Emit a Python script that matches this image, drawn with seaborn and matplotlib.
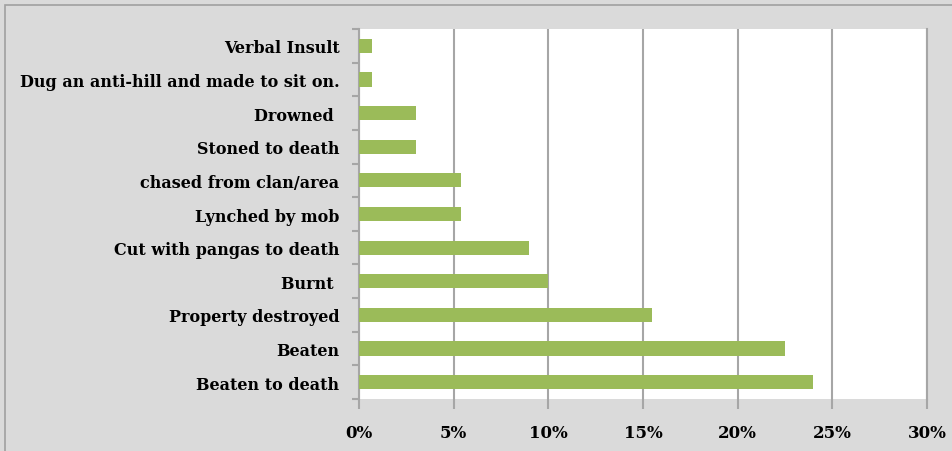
import matplotlib
matplotlib.use("Agg")
import matplotlib.pyplot as plt
import seaborn as sns
import pandas as pd
from matplotlib.patches import Rectangle
from matplotlib.ticker import FuncFormatter

# Données (en %)
categories = ["Verbal Insult", "Dug an anti-hill and made to sit on.", "Drowned ",
              "Stoned to death", "chased from clan/area", "Lynched by mob",
              "Cut with pangas to death", "Burnt ", "Property destroyed",
              "Beaten", "Beaten to death"]
values = [0.7, 0.7, 3.0, 3.0, 5.4, 5.4, 9.0, 10.0, 15.5, 22.5, 24.0]
x_ticks = [0, 5, 10, 15, 20, 25, 30]

df = pd.DataFrame({"category": categories, "value": values})

sns.set_style("white")
plt.rcParams["font.family"] = ["DejaVu Serif"]

fig = plt.figure(figsize=(9.52, 4.52), dpi=100)
fig.patch.set_facecolor("#dadada")

# cadre extérieur
fig.patches.append(Rectangle((5 / 952, -0.05), 1.1, (452 - 6) / 452 + 0.05,
                             transform=fig.transFigure, fill=False,
                             edgecolor="#a0a0a0", linewidth=1.2))

ax = fig.add_axes([359 / 952, 1 - 400 / 452, (927 - 359) / 952, (400 - 30) / 452])
ax.set_facecolor("white")

sns.barplot(data=df, x="value", y="category", color="#9BBB59",
            width=0.42, saturation=1, ax=ax, orient="h", zorder=3,
            linewidth=0)

ax.set_xlim(0, 30)
ax.set_ylim(10.5, -0.5)
ax.set_xticks(x_ticks)
ax.xaxis.set_major_formatter(FuncFormatter(lambda v, p: f"{v:.0f}%"))
ax.grid(axis="x", color="#a6a6a6", linewidth=1.5, zorder=0)
ax.set_axisbelow(True)
ax.set_xlabel("")
ax.set_ylabel("")

for s in ["top", "bottom"]:
    ax.spines[s].set_visible(False)
ax.spines["left"].set_color("#a6a6a6")
ax.spines["left"].set_linewidth(1.5)
ax.spines["right"].set_color("#a6a6a6")
ax.spines["right"].set_linewidth(1.5)

# graduations de l'axe vertical entre les catégories
ax.set_yticks([i - 0.5 for i in range(len(categories) + 1)], minor=True)
ax.tick_params(axis="y", which="minor", length=5, width=1.5, color="#a6a6a6", left=True)
ax.tick_params(axis="y", which="major", length=0, pad=14, labelsize=11.5,
               labelcolor="black")
ax.tick_params(axis="x", which="major", length=7, width=1.5, color="#a6a6a6",
               bottom=True, pad=11, labelsize=12, labelcolor="black")
for lab in ax.get_yticklabels() + ax.get_xticklabels():
    lab.set_fontweight("bold")

fig.savefig("out.png", dpi=100, facecolor=fig.get_facecolor())
